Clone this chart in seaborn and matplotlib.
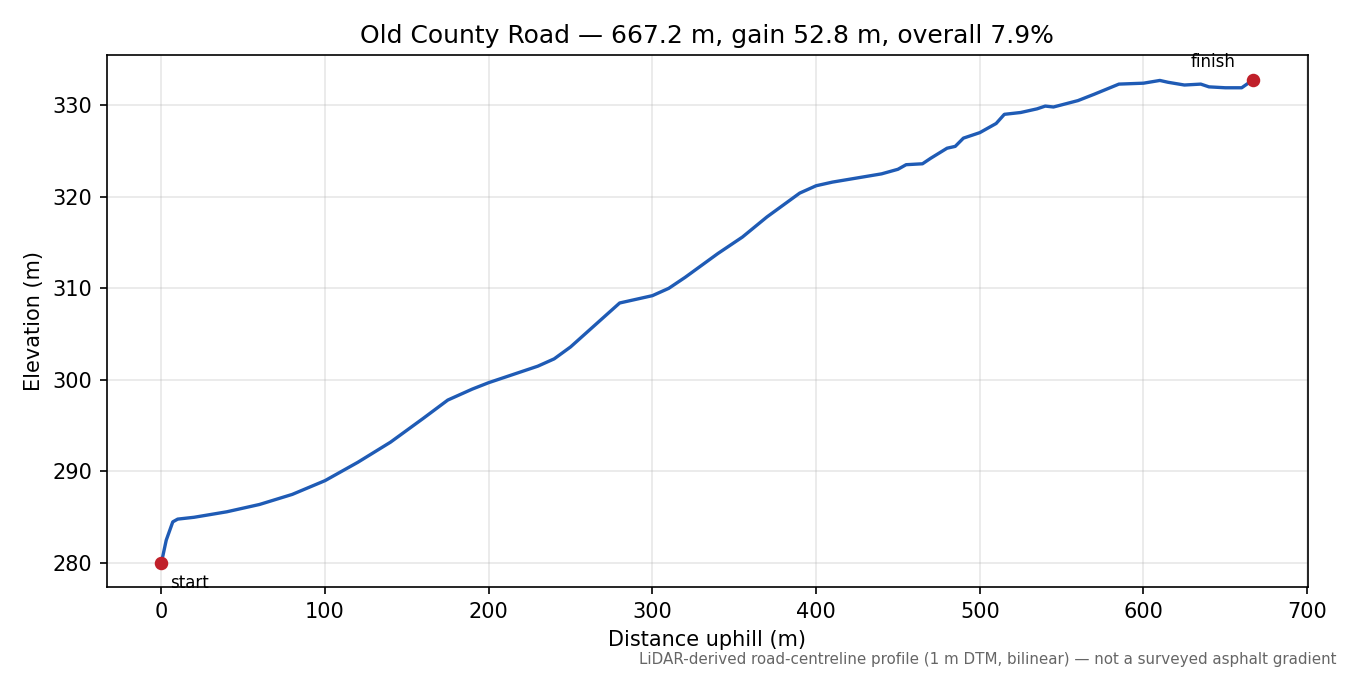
import numpy as np
import pandas as pd
import matplotlib
matplotlib.use('Agg')
import matplotlib.pyplot as plt
import seaborn as sns

# profile
distance = [0, 3, 7, 10, 20, 40, 60, 80, 100, 120, 140, 160, 175, 190, 200, 230, 240,
            250, 260, 275, 280, 290, 300, 310, 320, 340, 355, 370, 390, 400, 410, 420,
            440, 450, 455, 465, 470, 480, 485, 490, 500, 510, 515, 525, 535, 540, 545,
            560, 570, 585, 600, 610, 615, 625, 635, 640, 650, 660, 667.2]
elevation = [280, 282.5, 284.5, 284.8, 285.0, 285.6, 286.4, 287.5, 289.0, 291.0, 293.2,
             295.8, 297.8, 299.0, 299.7, 301.5, 302.3, 303.6, 305.2, 307.6, 308.4, 308.8,
             309.2, 310.0, 311.2, 313.8, 315.6, 317.8, 320.4, 321.2, 321.6, 321.9, 322.5,
             323.0, 323.5, 323.6, 324.2, 325.3, 325.5, 326.4, 327.0, 328.0, 329.0, 329.2,
             329.6, 329.9, 329.8, 330.5, 331.2, 332.3, 332.4, 332.7, 332.5, 332.2, 332.3,
             332.0, 331.9, 331.9, 332.8]

df = pd.DataFrame({'distance': distance, 'elevation': elevation})

plt.rcParams['font.family'] = ['DejaVu Sans']
fig, ax = plt.subplots(figsize=(9, 4.5), dpi=150)
sns.lineplot(data=df, x='distance', y='elevation', color='#1f5bb5', linewidth=1.6, ax=ax)
ax.scatter([distance[0], distance[-1]], [elevation[0], elevation[-1]],
           color='#c0202a', s=30, zorder=5)
ax.annotate('start', (distance[0], elevation[0]), xytext=(4, -12),
            textcoords='offset points', fontsize=8)
ax.annotate('finish', (distance[-1], elevation[-1]), xytext=(-30, 6),
            textcoords='offset points', fontsize=8)

ax.grid(True, alpha=0.3)
ax.set_xlim(-33.4, 700.6)
ax.set_title('Old County Road — 667.2 m, gain 52.8 m, overall 7.9%', fontsize=12)
ax.set_xlabel('Distance uphill (m)')
ax.set_ylabel('Elevation (m)')
fig.text(0.99, 0.012, 'LiDAR-derived road-centreline profile (1 m DTM, bilinear) — not a surveyed asphalt gradient',
         ha='right', va='bottom', fontsize=7.25, color='#666666')
fig.subplots_adjust(left=0.079, right=0.969, top=0.918, bottom=0.13)
fig.savefig('out.png', dpi=150)
